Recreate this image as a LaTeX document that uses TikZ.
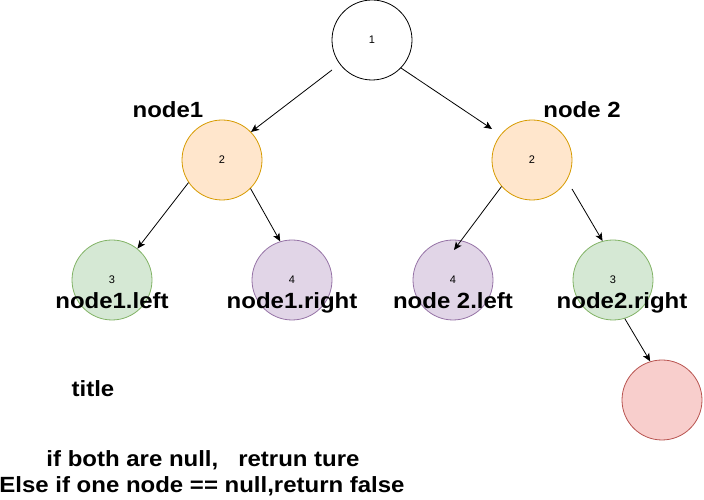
\documentclass[tikz,border=0pt]{standalone}
\usepackage{fontspec}
\setmainfont{Liberation Sans}
\newfontfamily\labelfont[FakeStretch=1.09]{Liberation Sans}
\usetikzlibrary{arrows.meta}

\definecolor{orangefill}{HTML}{FFE6CC}
\definecolor{orangeline}{HTML}{D79B00}
\definecolor{greenfill}{HTML}{D5E8D4}
\definecolor{greenline}{HTML}{82B366}
\definecolor{purplefill}{HTML}{E1D5E7}
\definecolor{purpleline}{HTML}{9673A6}
\definecolor{redfill}{HTML}{F8CECC}
\definecolor{redline}{HTML}{B85450}

\begin{document}
\begin{tikzpicture}[x=1pt, y=1pt,
    treenode/.style={circle, draw, line width=0.8pt, minimum size=80pt, inner sep=0pt,
        font=\fontsize{11}{13}\selectfont},
    label/.style={font=\labelfont\fontsize{22}{26}\selectfont\bfseries, anchor=base, inner sep=0pt},
    edge/.style={line width=0.8pt, -{Stealth[length=8pt, width=7pt, inset=2pt]}}]
    \useasboundingbox (0, 0) rectangle (704, 500);

    \node[treenode] (root) at (372, 460) {1};
    \node[treenode, fill=orangefill, draw=orangeline] (n1) at (222, 340) {2};
    \node[treenode, fill=orangefill, draw=orangeline] (n2) at (532, 340) {2};
    \node[treenode, fill=greenfill, draw=greenline] (n1l) at (112, 220) {3};
    \node[treenode, fill=purplefill, draw=purpleline] (n1r) at (292, 220) {4};
    \node[treenode, fill=purplefill, draw=purpleline] (n2l) at (453, 220) {4};
    \node[treenode, fill=greenfill, draw=greenline] (n2r) at (613, 220) {3};
    \node[treenode, fill=redfill, draw=redline] (nil) at (662, 100) {};

    % loose ends of the connectors
    \coordinate (rootout) at (332, 430);
    \coordinate (n2in) at (492, 371);
    \coordinate (n2out) at (572, 311);
    \coordinate (n2lin) at (454, 250);

    \draw[edge] (rootout) -- (n1.44);
    \draw[edge] (root.316) -- (n2in);
    \draw[edge] (n1.214) -- (n1l.51);
    \draw[edge] (n1.315) -- (n1r.107);
    \draw[edge] (n2.221) -- (n2lin);
    \draw[edge] (n2out) -- (n2r.105);
    \draw[edge] (n2r.287) -- (nil.107);

    \node[label] (lbn1) at (168, 382) {node1};
    \node[label] (lbn2) at (582, 382) {node 2};
    \node[label] (lbn1l) at (112, 191) {node1.left};
    \node[label] (lbn1r) at (292, 191) {node1.right};
    \node[label] (lbn2l) at (453, 191) {node 2.left};
    \node[label] (lbn2r) at (622, 191) {node2.right};

    \node[label] (title) at (93, 103) {title};
    \node[label] (rule1) at (203, 33) {if both are null,\ \ \ retrun ture};
    \node[label] (rule2) at (202, 7.5) {Else if one node == null,return false};
\end{tikzpicture}
\end{document}
